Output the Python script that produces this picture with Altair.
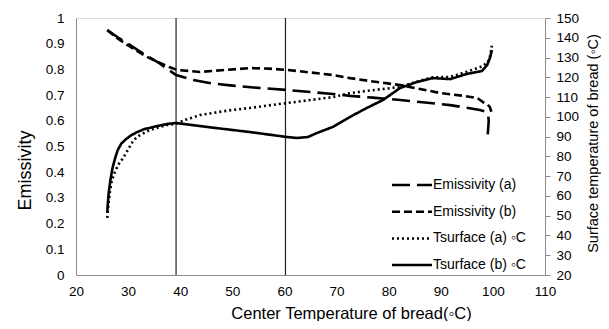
import altair as alt
import pandas as pd

# ---- data ----
emis_a_x = [26.0, 28.0, 30.0, 32.0, 34.0, 36.0, 38.0, 39.2, 42.5, 46.0, 50.0, 55.0, 60.5, 65.0, 69.3, 72.6, 77.0, 82.2, 87.0, 91.8, 95.0, 97.5, 98.5, 99.1, 99.2, 99.1, 99.0]
emis_a_y = [0.953, 0.925, 0.900, 0.873, 0.848, 0.824, 0.795, 0.778, 0.759, 0.746, 0.737, 0.728, 0.720, 0.712, 0.704, 0.697, 0.690, 0.681, 0.671, 0.661, 0.651, 0.642, 0.636, 0.622, 0.600, 0.570, 0.545]

emis_b_x = [26.0, 28.0, 30.0, 32.0, 34.0, 36.0, 38.0, 39.4, 43.8, 48.0, 53.4, 57.0, 60.5, 65.0, 69.3, 72.6, 77.0, 82.2, 86.0, 89.9, 94.0, 97.0, 98.1, 99.0, 99.4, 99.8]
emis_b_y = [0.953, 0.920, 0.893, 0.868, 0.845, 0.826, 0.808, 0.798, 0.790, 0.797, 0.805, 0.803, 0.798, 0.788, 0.778, 0.766, 0.753, 0.739, 0.724, 0.708, 0.698, 0.689, 0.673, 0.662, 0.654, 0.630]

ts_a_x = [26.0, 26.2, 26.5, 26.9, 27.6, 28.3, 29.0, 30.0, 31.0, 32.0, 33.5, 35.0, 37.5, 39.2, 41.0, 43.8, 47.0, 50.0, 53.4, 57.0, 60.5, 65.0, 69.3, 72.6, 76.0, 80.0, 82.2, 85.4, 88.5, 91.8, 95.0, 97.9, 99.0, 99.5, 99.8]
ts_a_y = [48.9, 55.0, 62.0, 68.0, 73.0, 76.5, 79.0, 83.5, 88.0, 90.3, 92.5, 94.0, 95.9, 96.5, 98.5, 100.9, 102.3, 103.5, 104.5, 105.8, 107.0, 108.5, 110.0, 112.0, 113.2, 114.4, 115.2, 117.8, 120.0, 120.2, 122.8, 125.5, 127.5, 131.0, 136.0]

ts_b_x = [26.0, 26.1, 26.3, 26.6, 27.0, 27.5, 28.0, 28.7, 29.5, 30.5, 31.5, 33.0, 35.0, 37.5, 39.2, 43.0, 47.0, 53.4, 60.5, 62.4, 64.5, 66.2, 69.3, 72.6, 75.8, 78.9, 82.2, 85.4, 88.5, 91.8, 95.0, 97.9, 98.9, 99.5, 99.8]
ts_b_y = [51.4, 56.0, 62.0, 68.0, 74.0, 79.0, 83.2, 86.5, 88.5, 90.5, 92.0, 93.7, 95.0, 96.4, 96.9, 95.6, 94.3, 92.3, 89.8, 89.3, 89.8, 91.8, 94.9, 100.0, 104.5, 108.5, 114.6, 117.6, 119.6, 119.1, 121.7, 123.2, 126.2, 130.3, 133.8]

marker_x = [39.2, 60.2]

series_names = ["Emissivity (a)", "Emissivity (b)", "Tsurface (a) \u25e6C", "Tsurface (b) \u25e6C"]
dash_styles = [[18, 7], [8, 4], [2, 3], [1, 0]]

x_ticks = [20, 30, 40, 50, 60, 70, 80, 90, 100, 110]


def frame(xs, ys, name):
    return pd.DataFrame({"x": xs, "v": ys, "series": name, "ord": list(range(len(xs)))})


emis = pd.concat([frame(emis_a_x, emis_a_y, series_names[0]),
                  frame(emis_b_x, emis_b_y, series_names[1])])
tsurf = pd.concat([frame(ts_a_x, ts_a_y, series_names[2]),
                   frame(ts_b_x, ts_b_y, series_names[3])])
marks = pd.DataFrame({"x": marker_x})

FONT = "Liberation Sans"
GRAY = "#8c8c8c"

xscale = alt.Scale(domain=[20, 110], nice=False)
xaxis = alt.Axis(values=x_ticks, grid=False, ticks=False, domainColor=GRAY,
                 labelFontSize=13.5, labelPadding=9, labelColor="#000", labelFlush=False,
                 title="Center Temperature of bread(\u25e6C)", titleFontSize=16.5,
                 titleFontWeight="normal", titleColor="#000",
                 titleX=275, titleY=38, titleBaseline="middle", titleAlign="center")

dash_scale = alt.Scale(domain=series_names, range=dash_styles)
# wide horizontal stroke symbol: path spans 4 units, scaled by sqrt(size)/2
legend = alt.Legend(title=None, orient="none", legendX=324.5, legendY=155.5,
                    symbolType="M-2,0H2", symbolSize=400, symbolStrokeWidth=2.5,
                    symbolStrokeColor="#000", symbolFillColor="transparent",
                    labelFontSize=14, labelFont=FONT,
                    labelColor="#000", labelOffset=9.5, rowPadding=7.7, padding=0)

left = alt.Chart(emis).mark_line(color="#000", strokeWidth=2.6).encode(
    x=alt.X("x:Q", scale=xscale, axis=xaxis),
    y=alt.Y("v:Q", scale=alt.Scale(domain=[0, 1], nice=False),
            axis=alt.Axis(values=[i / 10 for i in range(11)], format="~g", grid=False,
                          ticks=False, domainColor=GRAY, labelFontSize=13.5,
                          labelPadding=12, labelColor="#000",
                          title="Emissivity", titleFontSize=18, titleFontWeight="normal",
                          titleColor="#000", titleX=-51, titleY=152,
                          titleAlign="center", titleBaseline="middle")),
    strokeDash=alt.StrokeDash("series:N", scale=dash_scale, legend=legend),
    order="ord:Q",
)

right = alt.Chart(tsurf).mark_line(color="#000", strokeWidth=2.6).encode(
    x=alt.X("x:Q", scale=xscale, axis=xaxis),
    y=alt.Y("v:Q", scale=alt.Scale(domain=[20, 150], nice=False),
            axis=alt.Axis(orient="right", values=list(range(20, 151, 10)), grid=False,
                          ticks=True, tickSize=5, tickColor=GRAY, domainColor=GRAY,
                          labelFontSize=13.5, labelPadding=6, labelColor="#000",
                          title="Surface temperature of bread (\u25e6C)", titleFontSize=14.5,
                          titleFontWeight="normal", titleColor="#000", titleAngle=270,
                          titleX=48, titleY=125, titleAlign="center",
                          titleBaseline="middle")),
    strokeDash=alt.StrokeDash("series:N", scale=dash_scale, legend=legend),
    order="ord:Q",
)

rules = alt.Chart(marks).mark_rule(color="#222", strokeWidth=1.2).encode(
    x=alt.X("x:Q", scale=xscale)
)

chart = alt.layer(rules, left, right).resolve_scale(y="independent").properties(
    width=469, height=257,
    autosize=alt.AutoSizeParams(type="none"),
    padding={"left": 68, "top": 10, "right": 56, "bottom": 46},
).configure_view(stroke=None).configure(font=FONT, background="white")

chart.save("out.html", embed_options={"renderer": "svg", "actions": False})
